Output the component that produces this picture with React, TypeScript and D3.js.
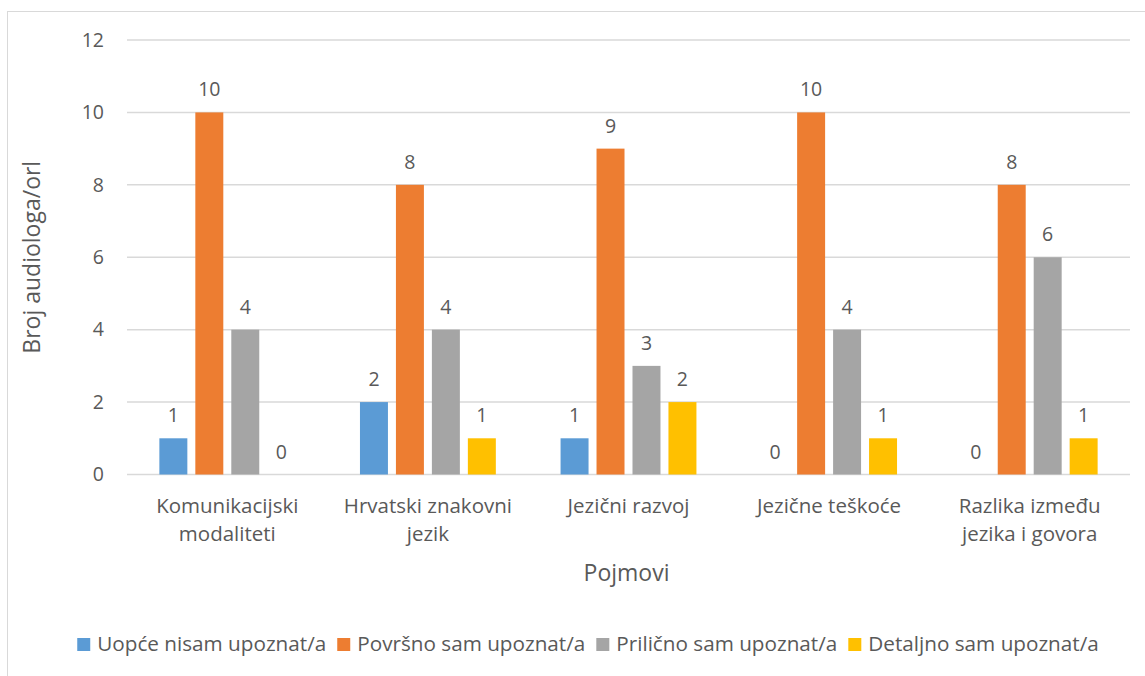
import React, { useEffect, useRef } from "react";
import * as d3 from "d3";

const categories: string[][] = [
  ["Komunikacijski", "modaliteti"],
  ["Hrvatski znakovni", "jezik"],
  ["Jezični razvoj"],
  ["Jezične teškoće"],
  ["Razlika između", "jezika i govora"],
];
const seriesNames = [
  "Uopće nisam upoznat/a",
  "Površno sam upoznat/a",
  "Prilično sam upoznat/a",
  "Detaljno sam upoznat/a",
];
const uopce = [1, 2, 1, 0, 0];
const povrsno = [10, 8, 9, 10, 8];
const prilicno = [4, 4, 3, 4, 6];
const detaljno = [0, 1, 2, 1, 1];
const yTicks = [0, 2, 4, 6, 8, 10, 12];
const colors = ["#5B9BD5", "#ED7D31", "#A5A5A5", "#FFC000"];

const W = 1145;
const H = 676;
const FONT = "'Open Sans', sans-serif";
const TXT = "#595959";

export default function App() {
  const ref = useRef<SVGSVGElement>(null);
  useEffect(() => {
    const svg = d3.select(ref.current);
    svg.selectAll("*").remove();
    const values = [uopce, povrsno, prilicno, detaljno];
    const m = { left: 127, right: 1130, top: 40, bottom: 474.5 };

    svg.append("rect").attr("x", 7.5).attr("y", 11.5).attr("width", 1160).attr("height", 700)
      .attr("fill", "#fff").attr("stroke", "#d9d9d9").attr("stroke-width", 1);

    const y = d3.scaleLinear().domain([0, 12]).range([m.bottom, m.top]);
    const catIdx = categories.map((_, i) => String(i));
    const x0 = d3.scaleBand().domain(catIdx).range([m.left, m.right]).paddingInner(0).paddingOuter(0);
    const x1 = d3.scaleBand().domain(seriesNames).range([0, x0.bandwidth()]).paddingInner(0.222).paddingOuter(0.9);

    // gridlines
    svg.append("g").selectAll("line").data(yTicks).join("line")
      .attr("x1", m.left).attr("x2", m.right)
      .attr("y1", d => y(d)).attr("y2", d => y(d))
      .attr("stroke", "#d9d9d9").attr("stroke-width", 1.5);

    // y tick labels
    svg.append("g").selectAll("text").data(yTicks).join("text")
      .attr("x", 104).attr("y", d => y(d)).attr("dy", "0.35em")
      .attr("text-anchor", "end").attr("font-family", FONT).attr("font-size", 19.5).attr("fill", TXT)
      .text(d => String(d));

    // bars
    seriesNames.forEach((s, si) => {
      const g = svg.append("g");
      g.selectAll("rect").data(values[si]).join("rect")
        .attr("x", (_, i) => (x0(String(i)) as number) + (x1(s) as number))
        .attr("width", x1.bandwidth())
        .attr("y", d => y(d))
        .attr("height", d => y(0) - y(d))
        .attr("fill", colors[si]);
      g.selectAll("text").data(values[si]).join("text")
        .attr("x", (_, i) => (x0(String(i)) as number) + (x1(s) as number) + x1.bandwidth() / 2)
        .attr("y", d => y(d) - 16)
        .attr("text-anchor", "middle").attr("font-family", FONT).attr("font-size", 19.5).attr("fill", TXT)
        .text(d => String(d));
    });

    // category labels
    categories.forEach((lines, i) => {
      const cx = (x0(String(i)) as number) + x0.bandwidth() / 2;
      const t = svg.append("text").attr("text-anchor", "middle").attr("font-family", FONT)
        .attr("font-size", 20.5).attr("fill", TXT);
      lines.forEach((l, li) => {
        t.append("tspan").attr("x", cx).attr("y", 513 + li * 28).text(l);
      });
    });

    // axis titles
    svg.append("text").attr("x", (m.left + m.right) / 2 - 2).attr("y", 581)
      .attr("text-anchor", "middle").attr("font-family", FONT).attr("font-size", 23).attr("fill", TXT)
      .text("Pojmovi");
    svg.append("text").attr("transform", `translate(40,${(m.top + m.bottom) / 2}) rotate(-90)`)
      .attr("text-anchor", "middle").attr("font-family", FONT).attr("font-size", 23).attr("fill", TXT)
      .text("Broj audiologa/orl");

    // legend
    const lg = svg.append("g");
    const items = seriesNames.map((s, i) => {
      const g = lg.append("g");
      g.append("rect").attr("x", 0).attr("y", -13).attr("width", 13).attr("height", 13).attr("fill", colors[i]);
      const t = g.append("text").attr("x", 20).attr("y", 0).attr("font-family", FONT).attr("font-size", 20.7)
        .attr("fill", TXT).text(s);
      const w = 20 + (t.node() as SVGTextElement).getComputedTextLength();
      return { g, w };
    });
    const gap = 11;
    const total = d3.sum(items, d => d.w) + gap * (items.length - 1);
    let cx = 588 - total / 2;
    items.forEach(it => {
      it.g.attr("transform", `translate(${cx},651)`);
      cx += it.w + gap;
    });
  }, []);
  return (
    <svg ref={ref} width={W} height={H} style={{ position: "absolute", left: 0, top: 0, background: "#fff" }} />
  );
}
